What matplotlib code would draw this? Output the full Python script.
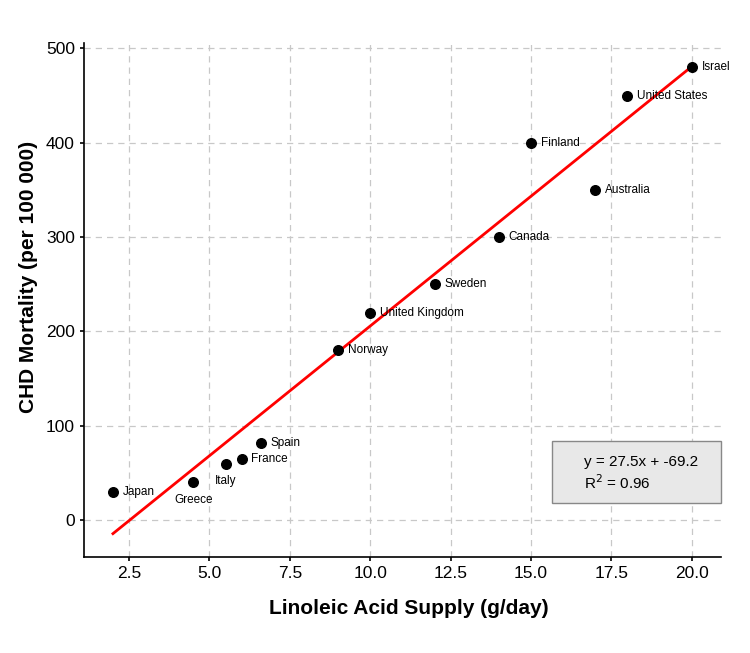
import matplotlib
matplotlib.use("Agg")
import matplotlib.pyplot as plt
import numpy as np

countries = ["Japan", "Greece", "Italy", "France", "Spain", "Norway",
             "United Kingdom", "Sweden", "Canada", "Finland", "Australia",
             "United States", "Israel"]
linoleic = [2.0, 4.5, 5.5, 6.0, 6.6, 9.0, 10.0, 12.0, 14.0, 15.0, 17.0, 18.0, 20.0]
chd = [30, 40, 60, 65, 82, 180, 220, 250, 300, 400, 350, 450, 480]

# regression as printed on the chart
fit_slope = 27.5
fit_intercept = -69.2
fit_r2 = 0.96

# labels that sit under their point instead of to the right
BELOW = {"Greece", "Italy"}

plt.rcParams.update({
    "font.family": "sans-serif",
    "font.sans-serif": ["Liberation Sans", "DejaVu Sans"],
    "axes.linewidth": 1.2,
})

fig = plt.figure(figsize=(7.5, 6.53), dpi=100)
ax = fig.add_axes([0.112, 0.147, 0.849, 0.787])

x = np.array(linoleic)
y = np.array(chd)

ax.scatter(x, y, s=48, color="black", zorder=3)
xs = np.array([x.min(), x.max()])
ax.plot(xs, fit_slope * xs + fit_intercept, color="red", linewidth=2, zorder=2)

for name, xi, yi in zip(countries, linoleic, chd):
    if name in BELOW:
        ax.annotate(name, (xi, yi), xytext=(0, -8), textcoords="offset points",
                    ha="center", va="top", fontsize=8.5)
    else:
        ax.annotate(name, (xi, yi), xytext=(7, 0), textcoords="offset points",
                    ha="left", va="center", fontsize=8.5)

ax.grid(True, linestyle=(0, (5, 4)), color="#c8c8c8", linewidth=0.9)
ax.set_axisbelow(True)
for side in ("top", "right"):
    ax.spines[side].set_visible(False)
ax.tick_params(direction="out", length=3, width=1.2, labelsize=12.5)

ax.set_xlabel("Linoleic Acid Supply (g/day)", fontsize=15, fontweight="bold")
ax.set_ylabel("CHD Mortality (per 100 000)", fontsize=15, fontweight="bold")
ax.xaxis.set_label_coords(0.51, -0.082)
ax.yaxis.set_label_coords(-0.072, 0.545)

ax.add_patch(plt.Rectangle((0.735, 0.105), 0.265, 0.121, transform=ax.transAxes,
                           facecolor="#e8e8e8", edgecolor="#888888",
                           linewidth=1, zorder=4, clip_on=False))
ax.text(0.785, 0.185, f"y = {fit_slope:.1f}x + {fit_intercept:.1f}",
        transform=ax.transAxes, ha="left", va="center", fontsize=11, zorder=5)
ax.text(0.785, 0.144, f"R$^2$ = {fit_r2:.2f}", transform=ax.transAxes,
        ha="left", va="center", fontsize=11, zorder=5)

fig.savefig("out.png", dpi=100)
